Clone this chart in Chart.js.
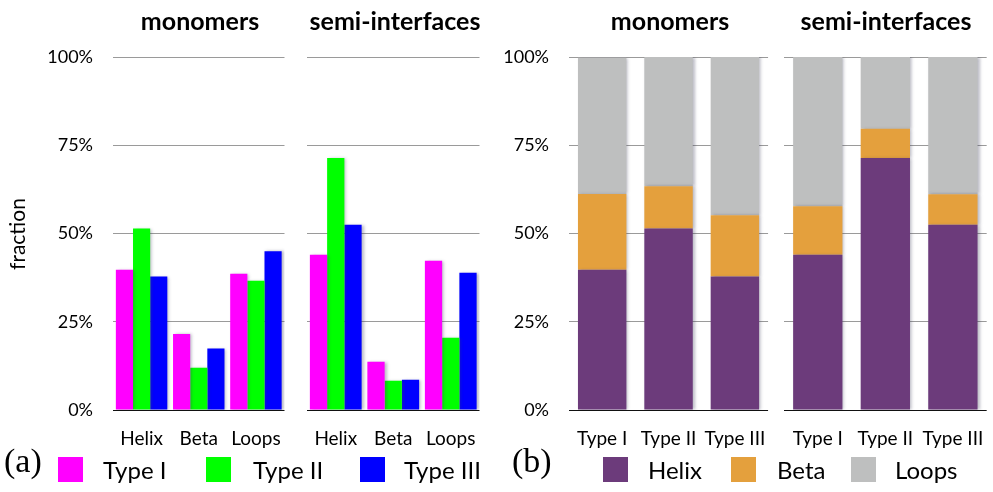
<!DOCTYPE html>
<html>
<head>
<meta charset="utf-8">
<script src="https://cdn.jsdelivr.net/npm/chart.js@4.4.0/dist/chart.umd.min.js"></script>
<style>
  body { margin: 0; background: #fff; }
  #wrap { position: relative; width: 993px; height: 492px; overflow: hidden; font-family: Lato, "Open Sans", sans-serif; }
  canvas { position: absolute; top: 0; }
  .title { position: absolute; top: 6px; width: 220px; text-align: center; font-weight: bold; font-size: 25px; line-height: 28px; }
  .ylab { position: absolute; left: -23px; top: 222px; width: 80px; height: 24px; line-height: 24px; text-align: center; font-size: 21px; transform: rotate(-90deg); }
  .panel { position: absolute; top: 442px; font-family: "Liberation Serif", serif; font-size: 34px; line-height: 38px; }
  .legend { position: absolute; top: 455px; height: 30px; font-size: 24px; line-height: 30px; }
  .legend span.box { position: absolute; top: 2px; width: 25px; height: 25px; }
  .legend span.txt { position: absolute; top: 0; white-space: nowrap; }
</style>
</head>
<body>
<div id="wrap">
  <canvas id="aMono" width="290" height="450" style="left:0px"></canvas>
  <canvas id="aSemi" width="185" height="450" style="left:300px"></canvas>
  <canvas id="bMono" width="285" height="450" style="left:490px"></canvas>
  <canvas id="bSemi" width="216" height="450" style="left:777px"></canvas>

  <div class="title" style="left:90px">monomers</div>
  <div class="title" style="left:285px">semi-interfaces</div>
  <div class="title" style="left:560px">monomers</div>
  <div class="title" style="left:776px">semi-interfaces</div>
  <div class="ylab">fraction</div>

  <div class="panel" style="left:4px">(a)</div>
  <div class="panel" style="left:512px">(b)</div>
  <div class="legend" id="legendA"></div>
  <div class="legend" id="legendB"></div>
</div>

<script>
// secondary structure and dimer types
const structures = ['Helix', 'Beta', 'Loops'];
const types = ['Type I', 'Type II', 'Type III'];
const yTicks = [0, 25, 50, 75, 100];

// fraction (%) per type: Type I, Type II, Type III
const monoHelix = [39.7, 51.4, 37.8];
const monoBeta = [21.5, 12.0, 17.4];
const monoLoops = [38.6, 36.6, 45.0];
const semiHelix = [44.0, 71.4, 52.5];
const semiBeta = [13.7, 8.3, 8.6];
const semiLoops = [42.3, 20.5, 38.9];

const typeColors = ['#ff00ff', '#00ff00', '#0000ff'];
const structColors = ['#6c3b7b', '#e4a03d', '#bebfbf'];

const tickFont = { family: 'Lato, sans-serif', size: 18 };
const xTickFont = { family: 'Lato, sans-serif', size: 19 };

// soft shadow on the right of each bar
const barShadow = {
  id: 'barShadow',
  beforeDatasetsDraw(chart) {
    const c = chart.ctx;
    c.save();
    c.shadowColor = 'rgba(60,60,90,0.35)';
    c.shadowBlur = 3;
    c.shadowOffsetX = 2;
    c.shadowOffsetY = 0;
  },
  afterDatasetsDraw(chart) {
    chart.ctx.restore();
  }
};

function makeChart(id, labels, datasets, opts) {
  new Chart(document.getElementById(id), {
    type: 'bar',
    data: { labels: labels, datasets: datasets },
    plugins: [barShadow],
    options: {
      responsive: false,
      animation: false,
      devicePixelRatio: 1,
      layout: { padding: { top: 57, right: opts.right, left: 0, bottom: 0 } },
      plugins: { legend: { display: false }, tooltip: { enabled: false } },
      datasets: { bar: { categoryPercentage: opts.catPct, barPercentage: 1, borderWidth: 0 } },
      scales: {
        x: {
          stacked: opts.stacked,
          grid: { display: false },
          border: { display: false },
          ticks: { font: xTickFont, color: '#000', padding: 9, maxRotation: 0, autoSkip: false },
          afterFit: s => { s.height = 40; }
        },
        y: {
          stacked: opts.stacked,
          min: 0,
          max: 100,
          afterBuildTicks: s => { s.ticks = yTicks.map(v => ({ value: v })); },
          ticks: { display: opts.showY, font: tickFont, color: '#000', padding: 20, callback: v => v + '%' },
          grid: {
            drawTicks: false,
            lineWidth: 1,
            color: c => c.tick && c.tick.value === 0 ? '#111' : '#9a9a9a'
          },
          border: { display: false },
          afterFit: s => { s.width = opts.yWidth; }
        }
      }
    }
  });
}

// (a) grouped bars: one series per type across structures
function typeSets(h, b, l) {
  return types.map((t, i) => ({ label: t, data: [h[i], b[i], l[i]], backgroundColor: typeColors[i] }));
}
// (b) stacked bars: one series per structure across types
function structSets(h, b, l) {
  return [h, b, l].map((d, i) => ({ label: structures[i], data: d, backgroundColor: structColors[i] }));
}

makeChart('aMono', structures, typeSets(monoHelix, monoBeta, monoLoops),
  { right: 2, yWidth: 113, showY: true, catPct: 0.9, stacked: false });
makeChart('aSemi', structures, typeSets(semiHelix, semiBeta, semiLoops),
  { right: 3, yWidth: 7, showY: false, catPct: 0.9, stacked: false });
makeChart('bMono', types, structSets(monoHelix, monoBeta, monoLoops),
  { right: 4, yWidth: 79, showY: true, catPct: 0.73, stacked: true });
makeChart('bSemi', types, structSets(semiHelix, semiBeta, semiLoops),
  { right: 4, yWidth: 7, showY: false, catPct: 0.73, stacked: true });

// legends
function buildLegend(el, names, colors, boxX, txtX) {
  names.forEach((n, i) => {
    el.insertAdjacentHTML('beforeend',
      '<span class="box" style="left:' + boxX[i] + 'px;background:' + colors[i] + '"></span>' +
      '<span class="txt" style="left:' + txtX[i] + 'px">' + n + '</span>');
  });
}
buildLegend(document.getElementById('legendA'), types, typeColors, [58, 206, 360], [103, 253, 404]);
buildLegend(document.getElementById('legendB'), structures, structColors, [603, 731, 851], [648, 777, 895]);
</script>
</body>
</html>
